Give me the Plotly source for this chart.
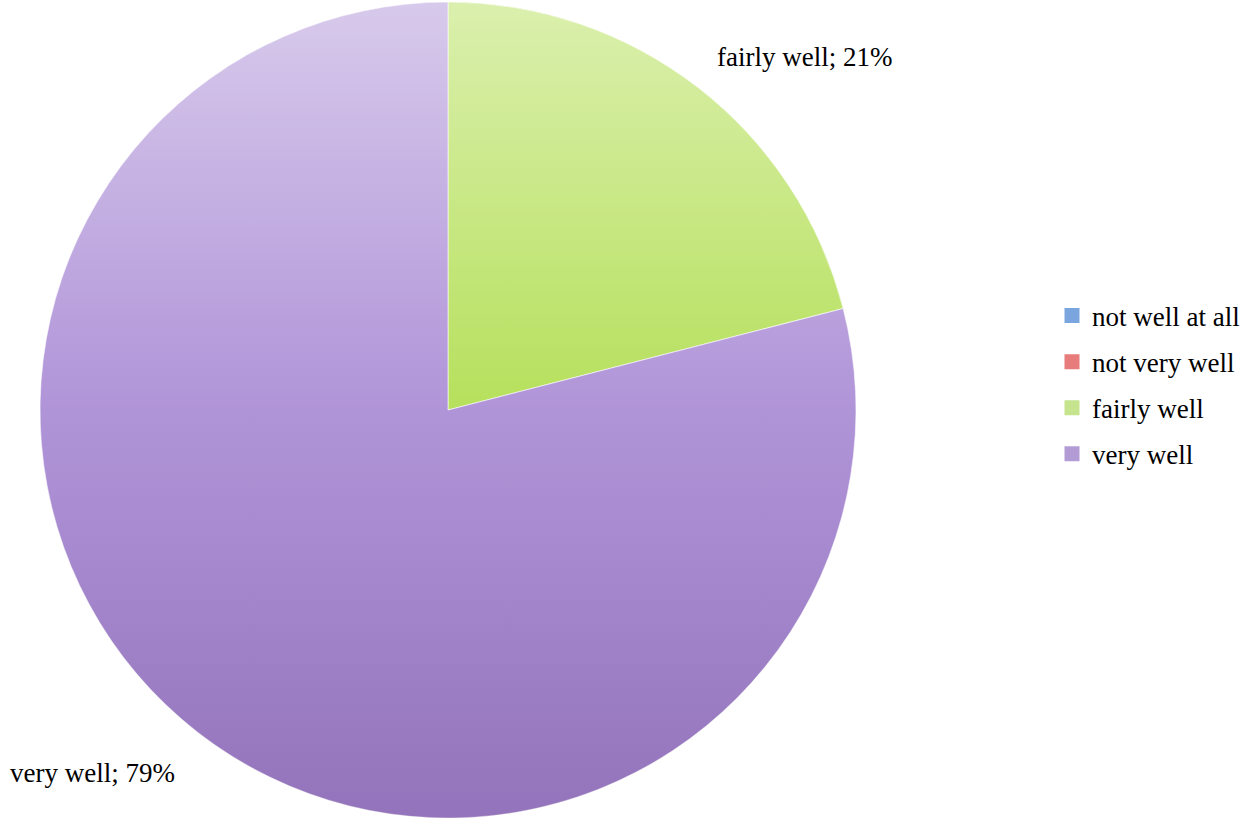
import base64
import plotly.graph_objects as go

labels = ["not well at all", "not very well", "fairly well", "very well"]
values = [0, 0, 21, 79]
slice_colors = ["#7ba5df", "#e87b7b", "#b6e05c", "#b094d8"]
legend_colors = ["#7ba5df", "#e87b7b", "#c6e38e", "#b39cd5"]

W, H = 1247, 820
FONT = "Liberation Serif"


def px(x):
    return x / W


def py(y):
    return 1 - y / H


# pie bounds in page pixels
cx, cy, r = 448, 410, 408
x0, x1 = px(cx - r), px(cx + r)
y0, y1 = py(cy + r), py(cy - r)

fig = go.Figure()
fig.add_trace(go.Pie(
    labels=labels, values=values, sort=False, direction="clockwise", rotation=0,
    marker=dict(colors=slice_colors, line=dict(color="rgba(255,255,255,0.6)", width=1)),
    textinfo="none", hoverinfo="label+percent", showlegend=False,
    domain=dict(x=[x0, x1], y=[y0, y1]),
))

# legend entries
for lab, col in zip(labels, legend_colors):
    fig.add_trace(go.Scatter(
        x=[None], y=[None], mode="markers", name=lab, legendgroup=lab,
        marker=dict(symbol="square", size=15, color=col, line=dict(width=0)),
    ))

# gradient shading over the pie (light at top, darker at bottom)
svg = ("<svg xmlns='http://www.w3.org/2000/svg' width='200' height='200' viewBox='0 0 200 200'>"
       "<defs><linearGradient id='g' x1='0' y1='0' x2='0' y2='1'>"
       "<stop offset='0' stop-color='white' stop-opacity='0.5'/>"
       "<stop offset='0.5' stop-color='white' stop-opacity='0'/>"
       "<stop offset='0.5' stop-color='rgb(80,40,120)' stop-opacity='0'/>"
       "<stop offset='1' stop-color='rgb(80,40,120)' stop-opacity='0.3'/>"
       "</linearGradient></defs>"
       "<circle cx='100' cy='100' r='100' fill='url(#g)'/></svg>")
uri = "data:image/svg+xml;base64," + base64.b64encode(svg.encode()).decode()
fig.add_layout_image(dict(source=uri, xref="paper", yref="paper", x=x0, y=y1,
                          sizex=x1 - x0, sizey=y1 - y0, sizing="stretch",
                          xanchor="left", yanchor="top", layer="above"))

# data labels
fig.add_annotation(text=f"{labels[2]}; {values[2]}%", xref="paper", yref="paper",
                   x=px(715), y=py(57), xanchor="left", yanchor="middle",
                   showarrow=False, font=dict(family=FONT, size=27, color="#000000"))
fig.add_annotation(text=f"{labels[3]}; {values[3]}%", xref="paper", yref="paper",
                   x=px(8), y=py(773), xanchor="left", yanchor="middle",
                   showarrow=False, font=dict(family=FONT, size=27, color="#000000"))

fig.update_layout(
    width=W, height=H, margin=dict(l=0, r=0, t=0, b=0),
    paper_bgcolor="white", plot_bgcolor="white",
    xaxis=dict(visible=False), yaxis=dict(visible=False),
    legend=dict(x=px(1052), y=py(385), xanchor="left", yanchor="middle",
                font=dict(family=FONT, size=27, color="#000000"),
                tracegroupgap=8, bgcolor="rgba(0,0,0,0)"),
    font=dict(family=FONT),
)

fig.write_html("out.html", config={"displayModeBar": False},
               post_script="document.body.style.margin='0';document.body.style.overflow='hidden';")
